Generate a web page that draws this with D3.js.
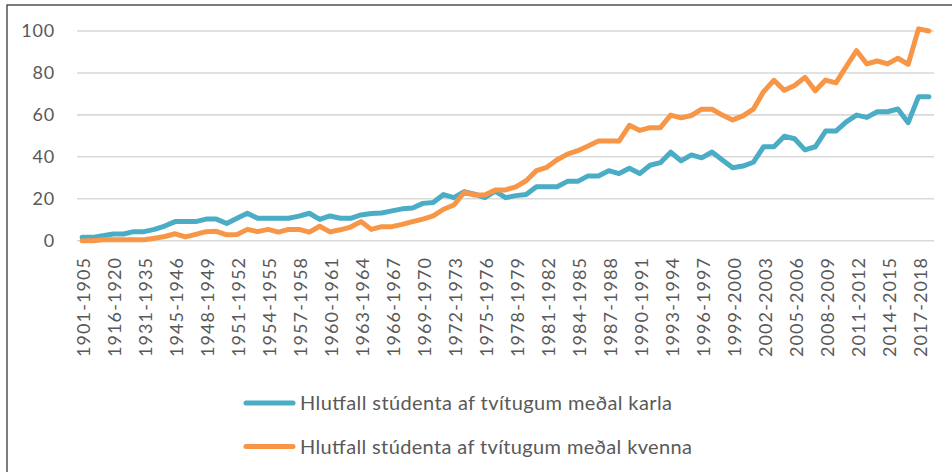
<!DOCTYPE html>
<html>
<head>
<meta charset="utf-8">
<script src="https://cdn.jsdelivr.net/npm/d3@7"></script>
<style>
  body { margin: 0; background: #fff; }
  svg { display: block; font-family: Lato, "Open Sans", sans-serif; }
</style>
</head>
<body>
<svg></svg>
<script>
const categories = [
  "1901-1905", "1906-1910", "1911-1915", "1916-1920", "1921-1925", "1926-1930", "1931-1935", "1936-1940", "1941-1944",
  "1945-1946", "1946-1947", "1947-1948", "1948-1949", "1949-1950", "1950-1951", "1951-1952", "1952-1953", "1953-1954",
  "1954-1955", "1955-1956", "1956-1957", "1957-1958", "1958-1959", "1959-1960", "1960-1961", "1961-1962", "1962-1963",
  "1963-1964", "1964-1965", "1965-1966", "1966-1967", "1967-1968", "1968-1969", "1969-1970", "1970-1971", "1971-1972",
  "1972-1973", "1973-1974", "1974-1975", "1975-1976", "1976-1977", "1977-1978", "1978-1979", "1979-1980", "1980-1981",
  "1981-1982", "1982-1983", "1983-1984", "1984-1985", "1985-1986", "1986-1987", "1987-1988", "1988-1989", "1989-1990",
  "1990-1991", "1991-1992", "1992-1993", "1993-1994", "1994-1995", "1995-1996", "1996-1997", "1997-1998", "1998-1999",
  "1999-2000", "2000-2001", "2001-2002", "2002-2003", "2003-2004", "2004-2005", "2005-2006", "2006-2007", "2007-2008",
  "2008-2009", "2009-2010", "2010-2011", "2011-2012", "2012-2013", "2013-2014", "2014-2015", "2015-2016", "2016-2017",
  "2017-2018", "2018-2019"
];

const karla = [
  1.6, 1.6, 2.4, 3.2, 3.2, 4.3, 4.3, 5.4, 7.0,
  9.1, 9.1, 9.1, 10.3, 10.3, 8.2, 10.7, 13.1, 10.7,
  10.7, 10.7, 10.7, 11.7, 13.1, 10.2, 11.8, 10.7, 10.7,
  12.3, 13.0, 13.2, 14.2, 15.2, 15.6, 17.8, 18.2, 22.0,
  20.5, 23.4, 22.2, 20.5, 23.6, 20.5, 21.5, 22.0, 25.7,
  25.7, 25.7, 28.3, 28.3, 30.9, 30.9, 33.4, 32.0, 34.5,
  32.0, 36.0, 37.2, 42.2, 38.1, 40.9, 39.5, 42.3, 38.5,
  34.8, 35.6, 37.4, 44.8, 44.8, 49.8, 48.6, 43.3, 44.8,
  52.3, 52.3, 56.7, 59.9, 58.8, 61.5, 61.5, 62.8, 56.3,
  68.7, 68.7
];

const kvenna = [
  0, 0, 0.5, 0.5, 0.5, 0.5, 0.5, 1.2, 2.0,
  3.3, 1.8, 3.0, 4.3, 4.5, 2.8, 3.0, 5.4, 4.3,
  5.4, 4.1, 5.4, 5.4, 4.1, 6.9, 4.2, 5.2, 6.5,
  9.1, 5.4, 6.7, 6.7, 7.8, 9.1, 10.3, 11.8, 15.0,
  17.0, 23.1, 21.8, 21.8, 24.2, 24.2, 25.7, 28.6, 33.4,
  35.0, 38.6, 41.3, 42.9, 45.2, 47.5, 47.5, 47.5, 55.0,
  52.6, 53.9, 53.9, 59.9, 58.6, 59.7, 62.7, 62.7, 59.9,
  57.6, 59.5, 62.7, 71.1, 76.5, 71.7, 74.0, 77.9, 71.5,
  76.6, 75.3, 83.0, 90.6, 84.3, 85.7, 84.3, 87.0, 84.1,
  101, 100
];

const yTicks = [0, 20, 40, 60, 80, 100];
const seriesNames = [
  "Hlutfall stúdenta af tvítugum meðal karla",
  "Hlutfall stúdenta af tvítugum meðal kvenna"
];
const seriesColors = ["#4bacc6", "#f79646"];

let svg = d3.select("svg").attr("width", 952).attr("height", 472);

// ramminn
svg.append("rect").attr("x", 7).attr("y", 5).attr("width", 980).attr("height", 500)
  .style("fill", "none").style("stroke", "#262626").style("stroke-width", 1.2);

let x = d3.scaleBand().domain(categories).range([77, 934]);
let y = d3.scaleLinear().domain([0, 100]).range([240.7, 31]);
const cx = (d) => x(d) + x.bandwidth() / 2;

svg.append("g").selectAll("line").data(yTicks).join("line")
  .attr("x1", 77).attr("x2", 934)
  .attr("y1", (d) => y(d)).attr("y2", (d) => y(d))
  .style("stroke", "#d9d9d9").style("stroke-width", 1.6);

svg.append("g").selectAll("text").data(yTicks).join("text")
  .attr("x", 55).attr("y", (d) => y(d)).attr("dy", "0.35em")
  .attr("text-anchor", "end")
  .style("font-size", "18px").style("fill", "#595959").style("letter-spacing", "0.8px")
  .text((d) => d);

let xLabels = categories.filter((d, i) => i % 3 === 0);
svg.append("g").selectAll("text").data(xLabels).join("text")
  .attr("transform", (d) => `translate(${cx(d) + 2},${258}) rotate(-90)`)
  .attr("dy", "0.35em")
  .attr("text-anchor", "end")
  .attr("textLength", 99).attr("lengthAdjust", "spacing")
  .style("font-size", "18px").style("fill", "#595959")
  .text((d) => d);

let line = d3.line().x((d, i) => cx(categories[i])).y((d) => y(d));

[karla, kvenna].forEach((s, k) => {
  svg.append("path").attr("d", line(s))
    .style("fill", "none").style("stroke", seriesColors[k]).style("stroke-width", 5)
    .style("stroke-linejoin", "round").style("stroke-linecap", "round");
});

let legend = svg.append("g");
seriesNames.forEach((name, k) => {
  let ly = 403 + k * 43.5;
  legend.append("line").attr("x1", 246).attr("x2", 293).attr("y1", ly).attr("y2", ly)
    .style("stroke", seriesColors[k]).style("stroke-width", 5).style("stroke-linecap", "round");
  legend.append("text").attr("x", 300).attr("y", ly).attr("dy", "0.35em")
    .attr("textLength", k === 0 ? 372 : 392).attr("lengthAdjust", "spacing")
    .style("font-size", "20px").style("fill", "#595959")
    .text(name);
});
</script>
</body>
</html>
